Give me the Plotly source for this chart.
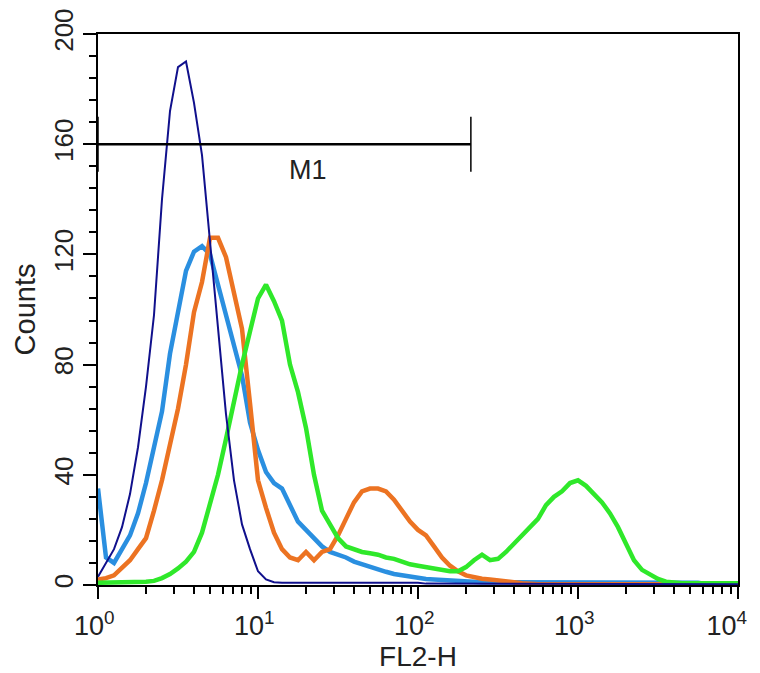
import numpy as np
import plotly.graph_objects as go

# channel positions: log10(FL2-H) from 0 to 4 in steps of 0.05
log_channels = [round(i * 0.05, 2) for i in range(81)]
fl2_h = [10 ** v for v in log_channels]

navy_counts = [3, 8, 13, 21, 33, 50, 72, 98, 140, 172, 188, 190, 175, 156, 125, 92, 62, 38, 22, 13,
               5, 2, 1, 0.8, 0.8, 0.8, 0.8, 0.8, 0.8, 0.8, 0.8, 0.8, 0.8, 0.8, 0.8, 0.8, 0.8, 0.8, 0.8, 0.8,
               0.8, 0.5, 0.5, 0.5, 0.5, 0.5, 0.5, 0.5, 0.5, 0.5, 0.5, 0.3, 0.3, 0.3, 0.3, 0.3, 0.3, 0.3, 0.3, 0.3,
               0.3, 0.3, 0.3, 0.3, 0.3, 0.3, 0.3, 0.3, 0.3, 0.3, 0.3, 0.3, 0.3, 0.3, 0.3, 0.3, 0.3, 0.3, 0.3, 0.3, 0.3]

blue_counts = [35, 10, 8, 13, 18, 26, 37, 50, 63, 84, 100, 114, 121, 123, 120, 109, 97, 87, 76, 59,
               49, 41, 37, 35, 29, 23, 20, 17, 14, 12, 11, 10, 8.5, 7.5, 6.5, 5.5, 4.8, 4, 3.5, 3,
               2.5, 2.2, 2, 1.8, 1.5, 1.3, 1.2, 1, 1, 1, 1, 1, 1, 1, 1, 1, 1, 1, 1, 1,
               1, 0.8, 0.8, 0.8, 0.8, 0.8, 0.8, 0.8, 0.8, 0.8, 0.8, 0.8, 0.8, 0.8, 0.8, 0.8, 0.4, 0.4, 0.4, 0.4, 0.4]

orange_counts = [2, 2.5, 3.5, 6, 9, 13, 17, 27, 38, 51, 64, 80, 99, 110, 126, 126, 119, 106, 93, 66,
                 38, 28, 19, 13, 10, 9, 12, 9, 12, 13, 18, 24, 30, 34, 35, 35, 34, 31, 27, 23,
                 20, 18, 14, 10, 7, 5, 3.5, 2.8, 2.3, 2, 1.8, 1.4, 1, 0.6, 0.3, 0.3, 0.3, 0.3, 0.3, 0.3,
                 0.3, 0.3, 0.3, 0.3, 0.3, 0.3, 0.3, 0.3, 0.3, 0.3, 0.3, 0.3, 0.3, 0.3, 0.3, 0.3, 0.3, 0.3, 0.3, 0.3, 0.3]

green_counts = [0.8, 0.8, 0.8, 0.8, 0.9, 1, 1.2, 1.5, 2.5, 4, 6, 8.5, 12, 19, 30, 40, 53, 67, 80, 92,
                104, 109, 103, 96, 80, 70, 57, 40, 27, 22, 17, 14, 13, 12, 11.5, 11, 10, 9.5, 8.5, 7.5,
                7, 6.5, 6, 5.5, 5, 5, 6.5, 9, 11, 9, 9.5, 12, 15, 17.5, 21, 24, 29, 32, 34, 37,
                38, 36, 33, 30, 26, 21, 15, 9, 5.5, 3.8, 2.2, 1.2, 0.8, 0.6, 0.6, 0.6, 0.6, 0.6, 0.6, 0.6, 0.6]

# M1 marker gate
m1_start = 1.0
m1_end = 214.0
m1_level = 160
m1_bar_low = 150
m1_bar_high = 170
m1_label = "M1"
m1_label_x = 20.5
m1_label_y = 150.5

x_tick_vals = [1, 10, 100, 1000, 10000]
x_tick_text = ["10<sup>0</sup>\u00a0", "10<sup>1</sup>\u00a0", "10<sup>2</sup>\u00a0",
               "10<sup>3</sup>\u00a0", "10<sup>4</sup>\u00a0\u00a0\u00a0"]
x_minor_vals = [m * d for d in [1, 10, 100, 1000] for m in range(2, 10)]
y_tick_vals = [0, 40, 80, 120, 160, 200]

font_family = "Liberation Sans, Arial, sans-serif"

fig = go.Figure()

series = [
    (blue_counts, "#2a8fe0", 4.5),
    (orange_counts, "#ec7322", 4.5),
    (green_counts, "#2fe82a", 4.5),
    (navy_counts, "#10108c", 2),
]
for counts, color, w in series:
    fig.add_trace(go.Scatter(x=fl2_h, y=counts, mode="lines",
                             line=dict(color=color, width=w), hoverinfo="skip"))

# M1 gate marker
fig.add_trace(go.Scatter(x=[m1_start, m1_end], y=[m1_level, m1_level], mode="lines",
                         line=dict(color="black", width=2.5), hoverinfo="skip"))
fig.add_trace(go.Scatter(x=[m1_start, m1_start], y=[m1_bar_low, m1_bar_high], mode="lines",
                         line=dict(color="black", width=1.5), hoverinfo="skip"))
fig.add_trace(go.Scatter(x=[m1_end, m1_end], y=[m1_bar_low, m1_bar_high], mode="lines",
                         line=dict(color="black", width=1.5), hoverinfo="skip"))

fig.add_annotation(x=np.log10(m1_label_x), y=m1_label_y, text=m1_label, showarrow=False,
                   font=dict(size=27, color="#222222", family=font_family))

# the page body adds an 8px offset, so the figure is sized to fit the 760x673 window
fig.update_layout(
    width=752, height=665,
    margin=dict(l=90, r=22, t=26, b=88, autoexpand=False),
    paper_bgcolor="white", plot_bgcolor="white",
    showlegend=False,
    font=dict(family=font_family, color="#111111"),
)

fig.update_xaxes(
    type="log", range=[0, 4], automargin=False,
    tickmode="array", tickvals=x_tick_vals, ticktext=x_tick_text,
    ticks="outside", ticklen=12, tickwidth=2, tickcolor="black",
    tickfont=dict(size=27, color="#222222"),
    ticklabeloverflow="allow", ticklabelstandoff=4,
    minor=dict(tickmode="array", tickvals=x_minor_vals, ticks="outside", ticklen=7, tickwidth=2, tickcolor="black"),
    showline=True, linecolor="black", linewidth=2, mirror=True,
    showgrid=False, zeroline=False,
    title=dict(text="FL2-H", font=dict(size=28, color="#222222"), standoff=0),
)

fig.update_yaxes(
    range=[0, 200], automargin=False,
    tickmode="array", tickvals=y_tick_vals,
    ticks="outside", ticklen=13, tickwidth=2, tickcolor="black",
    tickangle=-90,
    tickfont=dict(size=26, color="#222222"),
    minor=dict(dtick=8, tick0=0, ticks="outside", ticklen=7, tickwidth=2, tickcolor="black"),
    showline=True, linecolor="black", linewidth=2, mirror=True,
    showgrid=False, zeroline=False,
    title=dict(text="Counts", font=dict(size=29, color="#222222"), standoff=4),
)

fig.write_html("out.html")
